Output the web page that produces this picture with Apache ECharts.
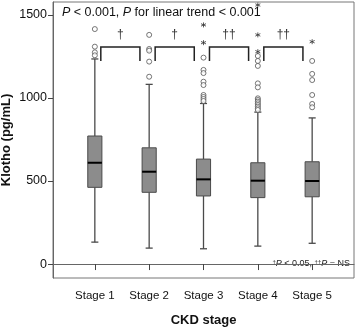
<!DOCTYPE html>
<html><head><meta charset="utf-8">
<script src="https://cdn.jsdelivr.net/npm/echarts@6/dist/echarts.min.js"></script>
<style>html,body{margin:0;padding:0;background:#fff}#c{width:358px;height:328px}</style>
</head><body><div id="c"></div>
<script>
const categories = ['Stage 1','Stage 2','Stage 3','Stage 4','Stage 5'];
const lowWhisker = [132, 96, 92, 108, 125];
const q1 = [462, 432, 410, 400, 405];
const median = [610, 556, 510, 502, 500];
const q3 = [771, 700, 632, 610, 616];
const highWhisker = [1235, 1082, 967, 915, 880];
const circleOutliers = [
  [1415, 1309, 1275, 1257],
  [1380, 1295, 1285, 1219, 1128],
  [1243, 1169, 1150, 1098, 1078, 1018, 1006, 994, 982],
  [1253, 1223, 1193, 1088, 1064, 998, 988, 978, 968, 958, 948, 938, 928],
  [1223, 1145, 1108, 1018, 964, 944]
];
const starOutliers = [
  [],
  [],
  [1440, 1333],
  [1560, 1380, 1279],
  [1339]
];
const yTicks = [0, 500, 1000, 1500];
// significance brackets between neighbouring stages: [from stage, to stage, label]
const brackets = [[1, 2, '†'], [2, 3, '†'], [3, 4, '††'], [4, 5, '††']];
const bracketTop = 1307, bracketDrop = 1223, bracketLabelY = 1380;

const font = 'Arial, "Liberation Sans", sans-serif';
const boxData = categories.map((c, i) => [i + 1, lowWhisker[i], q1[i], median[i], q3[i], highWhisker[i]]);
const circleData = [], starData = [];
circleOutliers.forEach((arr, i) => arr.forEach(v => circleData.push([i + 1, v])));
starOutliers.forEach((arr, i) => arr.forEach(v => starData.push([i + 1, v])));
const bracketData = brackets.map(b => [b[0] + 0.11, b[1] - 0.17, bracketTop, bracketDrop, (b[0] + b[1]) / 2, b[2]]);

const chart = echarts.init(document.getElementById('c'));
chart.setOption({
  animation: false,
  backgroundColor: '#fff',
  grid: { left: 53, right: 4, top: 2, bottom: 50, show: true, borderColor: '#777', borderWidth: 1, containLabel: false, outerBoundsMode: 'none' },
  title: {
    left: 62, top: 6, padding: 0,
    text: '{i|P} < 0.001, {i|P} for linear trend < 0.001',
    textStyle: {
      fontFamily: font, fontSize: 12.5, fontWeight: 'normal', color: '#111',
      rich: { i: { fontStyle: 'italic', fontFamily: font, fontSize: 12.5, color: '#111' } }
    }
  },
  graphic: [{
    type: 'text', right: 8, top: 259,
    style: {
      text: '{s|†}{i|P} < 0.05, {s|††}{i|P} = NS',
      fontFamily: font, fontSize: 9, fill: '#222',
      rich: {
        s: { fontSize: 6, verticalAlign: 'top', fontFamily: font, fill: '#222', padding: [0, 0, 3, 0] },
        i: { fontStyle: 'italic', fontSize: 9, fontFamily: font, fill: '#222' }
      }
    }
  }],
  xAxis: {
    type: 'value', min: 0.23, max: 5.77,
    name: 'CKD stage', nameLocation: 'middle', nameGap: 36, nameMoveOverlap: false,
    nameTextStyle: { fontFamily: font, fontSize: 13, fontWeight: 'bold', color: '#111' },
    axisLine: { lineStyle: { color: '#666' } },
    axisTick: { customValues: [1, 2, 3, 4, 5], length: 6, lineStyle: { color: '#444' } },
    axisLabel: { customValues: [1, 2, 3, 4, 5], formatter: v => categories[Math.round(v) - 1], fontFamily: font, fontSize: 11.5, color: '#111', margin: 12 },
    splitLine: { show: false }
  },
  yAxis: {
    type: 'value', min: -84, max: 1578,
    name: 'Klotho (pg/mL)', nameLocation: 'middle', nameGap: 40, nameMoveOverlap: false,
    nameTextStyle: { fontFamily: font, fontSize: 13, fontWeight: 'bold', color: '#111' },
    axisLine: { show: true, lineStyle: { color: '#666' } },
    axisTick: { show: true, customValues: yTicks, length: 5, lineStyle: { color: '#444' } },
    axisLabel: { customValues: yTicks, formatter: v => String(v), fontFamily: font, fontSize: 12.5, color: '#111', margin: 6 },
    splitLine: { show: false }
  },
  series: [
    {
      type: 'custom', data: boxData, z: 3,
      encode: { x: 0, y: [1, 2, 3, 4, 5] },
      renderItem(params, api) {
        const x = api.value(0);
        const p = k => api.coord([x, api.value(k)]);
        const [cx, yLow] = p(1);
        const yQ1 = p(2)[1], yMed = p(3)[1], yQ3 = p(4)[1], yHigh = p(5)[1];
        const bw = api.size([0.26, 0])[0];
        const cw = bw / 2;
        const ls = { stroke: '#4a4a4a', lineWidth: 1.3 };
        return {
          type: 'group', children: [
            { type: 'line', shape: { x1: cx, y1: yLow, x2: cx, y2: yQ1 }, style: ls },
            { type: 'line', shape: { x1: cx, y1: yQ3, x2: cx, y2: yHigh }, style: ls },
            { type: 'line', shape: { x1: cx - cw / 2, y1: yLow, x2: cx + cw / 2, y2: yLow }, style: ls },
            { type: 'line', shape: { x1: cx - cw / 2, y1: yHigh, x2: cx + cw / 2, y2: yHigh }, style: ls },
            { type: 'rect', shape: { x: cx - bw / 2, y: yQ3, width: bw, height: yQ1 - yQ3 }, style: { fill: '#8c8c8c', stroke: '#4a4a4a', lineWidth: 1 } },
            { type: 'line', shape: { x1: cx - bw / 2, y1: yMed, x2: cx + bw / 2, y2: yMed }, style: { stroke: '#000', lineWidth: 2 } }
          ]
        };
      }
    },
    {
      type: 'scatter', data: circleData, z: 4,
      symbol: 'circle', symbolSize: 5,
      itemStyle: { color: '#fff', borderColor: '#555', borderWidth: 1 }
    },
    {
      type: 'scatter', data: starData, z: 4,
      symbol: 'path://M0,-5L0,5M-4.33,-2.5L4.33,2.5M-4.33,2.5L4.33,-2.5', symbolSize: 5,
      itemStyle: { color: 'none', borderColor: '#333', borderWidth: 1 }
    },
    {
      type: 'custom', data: bracketData, z: 5,
      encode: { x: [0, 1], y: [2, 3] },
      renderItem(params, api) {
        const x1 = api.value(0), x2 = api.value(1), yt = api.value(2), yd = api.value(3);
        const a = api.coord([x1, yd]), b = api.coord([x1, yt]), c = api.coord([x2, yt]), d = api.coord([x2, yd]);
        const lab = api.coord([(x1 + x2) / 2, bracketLabelY]);
        return {
          type: 'group', children: [
            { type: 'polyline', shape: { points: [a, b, c, d] }, style: { stroke: '#222', lineWidth: 1.5, fill: null } },
            { type: 'text', x: lab[0], y: lab[1], style: { text: bracketData[params.dataIndex][5], fontFamily: font, fontSize: 12, fill: '#333', align: 'center', verticalAlign: 'middle' } }
          ]
        };
      }
    }
  ]
});
</script></body></html>
